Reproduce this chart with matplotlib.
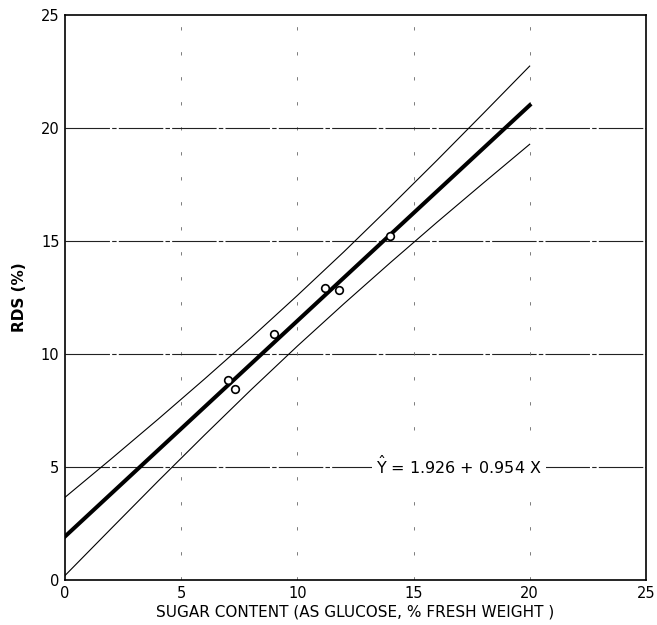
import matplotlib.pyplot as plt
import numpy as np

sugar = [7.0, 7.3, 9.0, 11.2, 11.8, 14.0]
rds = [8.85, 8.45, 10.9, 12.9, 12.85, 15.2]

# fitted line
b0 = 1.926
b1 = 0.954
fit_x = [0, 20]

# confidence band
band_x = [0, 2, 4, 6, 8, 10, 12, 14, 16, 18, 20]
band_upper = [3.66, 5.37, 7.11, 8.89, 10.71, 12.59, 14.52, 16.52, 18.56, 20.64, 22.74]
band_lower = [0.20, 2.29, 4.37, 6.41, 8.41, 10.35, 12.22, 14.04, 15.82, 17.56, 19.28]

ticks = [0, 5, 10, 15, 20, 25]

fig = plt.figure(figsize=(6.57, 6.25), dpi=100)
ax = fig.add_axes([0.099, 0.072, 0.884, 0.904])

# grid: horizontal long dashes, vertical sparse dashes
for t in ticks[1:-1]:
    ax.axhline(t, color="#222222", lw=0.8, ls=(0, (40, 2, 4, 2)), zorder=1)
    ax.axvline(t, color="#666666", lw=0.6, ls=(0, (4, 26)), zorder=1)

ax.plot(band_x, band_upper, color="black", lw=0.8, zorder=2)
ax.plot(band_x, band_lower, color="black", lw=0.8, zorder=2)
fx = np.array(fit_x, dtype=float)
ax.plot(fx, b0 + b1 * fx, color="black", lw=2.9, zorder=3)
ax.plot(sugar, rds, "o", mfc="white", mec="black", ms=5.5, mew=1.2, zorder=4)

ax.text(16.95, 5.05, r"$\hat{\mathrm{Y}}$ = 1.926 + 0.954 X", ha="center", va="center",
        fontsize=11.5, bbox=dict(facecolor="white", edgecolor="none", pad=3), zorder=5)

ax.set_xlim(0, 25)
ax.set_ylim(0, 25)
ax.set_xticks(ticks)
ax.set_yticks(ticks)
ax.tick_params(length=0, labelsize=10.5, pad=4)
for s in ax.spines.values():
    s.set_linewidth(1.2)

ax.set_xlabel("SUGAR CONTENT (AS GLUCOSE, % FRESH WEIGHT )", fontsize=11, labelpad=3)
ax.set_ylabel("RDS (%)", fontsize=11, fontweight="bold", labelpad=10)

fig.savefig("out.png", dpi=100)
